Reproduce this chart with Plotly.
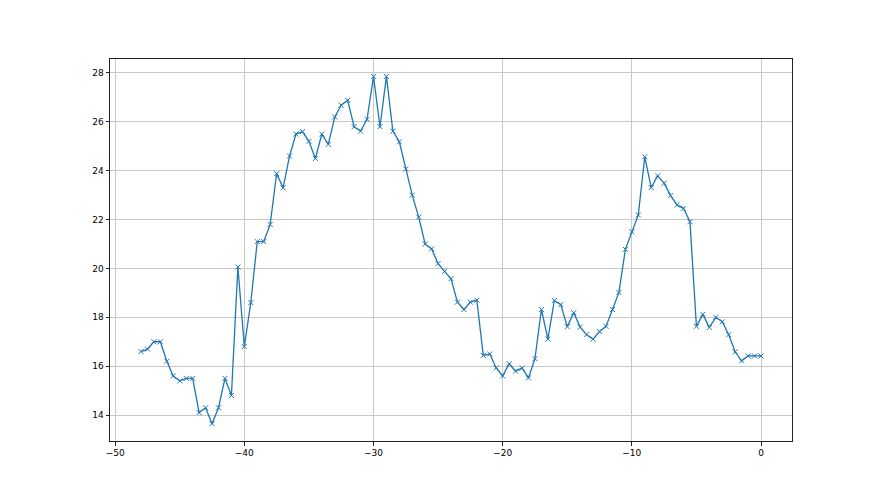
import plotly.graph_objects as go

x_values = [-48 + 0.5 * i for i in range(97)]
y_values = [
    16.6, 16.7, 17.0, 17.0, 16.2, 15.6, 15.4, 15.5, 15.5, 14.1,
    14.3, 13.65, 14.3, 15.5, 14.8, 20.06, 16.8, 18.6, 21.1, 21.1,
    21.8, 23.88, 23.3, 24.6, 25.5, 25.6, 25.2, 24.5, 25.5, 25.08,
    26.2, 26.68, 26.88, 25.8, 25.62, 26.1, 27.86, 25.8, 27.86, 25.62,
    25.18, 24.07, 23.0, 22.1, 21.0, 20.8, 20.2, 19.88, 19.58, 18.62,
    18.32, 18.62, 18.7, 16.44, 16.5, 15.93, 15.6, 16.1, 15.8, 15.92,
    15.52, 16.31, 18.32, 17.11, 18.69, 18.52, 17.62, 18.19, 17.6, 17.29,
    17.11, 17.42, 17.63, 18.32, 19.02, 20.78, 21.5, 22.19, 24.57, 23.31,
    23.79, 23.49, 22.98, 22.6, 22.46, 21.91, 17.63, 18.12, 17.59, 18.0,
    17.82, 17.29, 16.59, 16.22, 16.42, 16.42, 16.42,
]
x_ticks = [-50, -40, -30, -20, -10, 0]
y_ticks = [14, 16, 18, 20, 22, 24, 26, 28]

fig = go.Figure()
fig.add_trace(go.Scatter(
    x=x_values, y=y_values, mode="lines+markers",
    line=dict(color="#1f77b4", width=1.3),
    marker=dict(symbol="x-thin", size=5, line=dict(width=1, color="#1f77b4"), color="#1f77b4"),
    showlegend=False,
))

xmin, xmax = min(x_values), max(x_values)
ymin, ymax = min(y_values), max(y_values)
dx = (xmax - xmin) * 0.05
dy = (ymax - ymin) * 0.05

axis_common = dict(
    showline=True, mirror=True, linecolor="#222222", linewidth=1,
    showgrid=True, gridcolor="#c8c8c8", gridwidth=0.8,
    ticks="outside", ticklen=3.5, tickwidth=0.8, tickcolor="#222222",
    zeroline=False, tickfont=dict(family="DejaVu Sans", size=9, color="black"),
)

# Page body has an 8px default margin; size the figure so the plot area lands where the reference has it
fig.update_layout(
    width=872, height=487,
    margin=dict(l=102, r=88, t=51, b=54),
    paper_bgcolor="white", plot_bgcolor="white",
    xaxis=dict(range=[xmin - dx, xmax + dx], tickvals=x_ticks,
               ticktext=["\u2212" + str(-t) if t < 0 else str(t) for t in x_ticks], **axis_common),
    yaxis=dict(range=[ymin - dy, ymax + dy], tickvals=y_ticks, **axis_common),
)

fig.write_html("out.html")
